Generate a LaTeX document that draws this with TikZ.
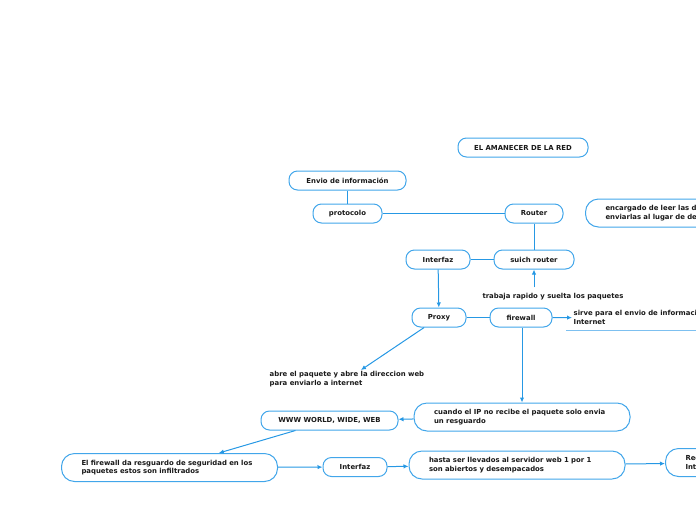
\documentclass[tikz,border=0pt]{standalone}
\usepackage{fontspec}
\setmainfont{DejaVu Sans}
\usetikzlibrary{arrows.meta}
\definecolor{boxblue}{RGB}{66,166,234}
\definecolor{lineblue}{RGB}{38,152,228}
\definecolor{ulblue}{RGB}{125,192,240}

\begin{document}
\begin{tikzpicture}[x=1pt, y=-1pt,
    every node/.style={font=\bfseries\fontsize{6.9}{8.8}\selectfont, text=black!90},
    box/.style={draw=boxblue, line width=1pt, fill=white, rounded corners=8.5pt, minimum height=19pt, inner sep=0pt},
    widebox/.style={box, rounded corners=13pt, minimum height=28pt, text width=176pt, inner xsep=20pt, align=left},
    txt/.style={align=left, inner sep=1.5pt},
    link/.style={draw=lineblue, line width=1pt},
    arr/.style={link, -{Latex[length=5pt, width=4.5pt]}}]
    \useasboundingbox (0, 0) rectangle (696, 520);
    \clip (0, 0) rectangle (696, 520);

    % title
    \node[box, minimum width=130pt] (title) at (523, 147.5) {EL AMANECER DE LA RED};

    % upper part
    \node[box, minimum width=117pt] (envio) at (347.5, 180.5) {Envio de información};
    \node[box, minimum width=69pt] (protocolo) at (347.5, 213.5) {protocolo};
    \node[box, minimum width=58pt] (router) at (534, 213.5) {Router};
    \node[widebox, anchor=west] (encargado) at (585, 213) {encargado de leer las direcciones y\\enviarlas al lugar de destino};
    \node[box, minimum width=64pt] (interfaz) at (438, 259.5) {Interfaz};
    \node[box, minimum width=80pt] (suich) at (534, 259.5) {suich router};
    \node[txt] (trabaja) at (553, 296.5) {trabaja rapido y suelta los paquetes};

    % middle part
    \node[box, minimum width=54pt] (proxy) at (439, 317.5) {Proxy};
    \node[box, minimum width=62pt] (firewall) at (521, 317.5) {firewall};
    \node[txt, anchor=north west] (sirve) at (572, 309) {sirve para el envio de informacion por\\Internet};
    \node[txt, anchor=north west] (abre) at (268, 370) {abre el paquete y abre la direccion web\\para enviarlo a internet};

    % lower part
    \node[widebox] (cuando) at (522, 417) {cuando el IP no recibe el paquete solo envia\\un resguardo};
    \node[box, minimum width=137pt] (www) at (329.5, 420.5) {WWW WORLD, WIDE, WEB};
    \node[widebox, minimum width=215pt] (elfirewall) at (169.5, 467.5) {El firewall da resguardo de seguridad en los\\paquetes estos son infiltrados};
    \node[box, minimum width=64pt] (interfaz2) at (355, 467) {Interfaz};
    \node[widebox] (hasta) at (517, 465) {hasta ser llevados al servidor web 1 por 1\\son abiertos y desempacados};
    \node[widebox, anchor=west] (red) at (665, 462.5) {Red de\\Internet};

    % draw lines
    \draw[link] (envio) -- (protocolo);
    \draw[link] (protocolo) -- (router);
    \draw[link] (router) -- (suich);
    \draw[link] (interfaz) -- (suich);
    \draw[link] (proxy) -- (firewall);
    \draw[draw=ulblue, line width=1.2pt] ([xshift=-6pt, yshift=-4pt]sirve.south west) -- ++(140, 0);

    % draw arrows
    \draw[arr] ([yshift=4pt]trabaja.north -| suich.south) -- (suich.south);
    \draw[arr] (interfaz) -- (proxy);
    \draw[arr] (firewall) -- (sirve);
    \draw[arr] (proxy) -- (abre);
    \draw[arr] (firewall.south -| cuando.north) -- (cuando.north);
    \draw[arr] (cuando) -- (www);
    \draw[arr] (www) -- (elfirewall);
    \draw[arr] (elfirewall) -- (interfaz2);
    \draw[arr] (interfaz2) -- (hasta);
    \draw[arr] (hasta) -- (red);
\end{tikzpicture}
\end{document}
